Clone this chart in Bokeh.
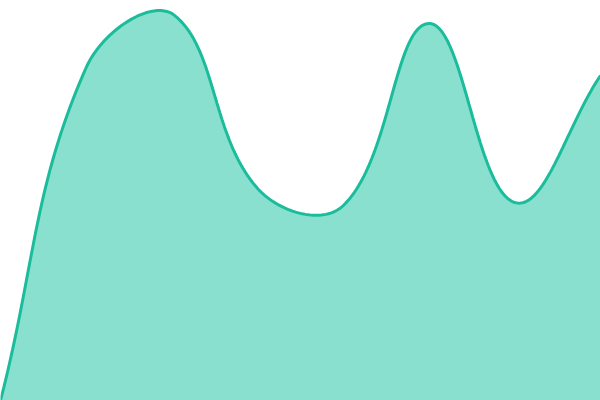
import numpy as np
from bokeh.plotting import figure
from bokeh.models import Range1d
from bokeh.embed import file_html
from bokeh.resources import INLINE

# data (8 evenly spaced samples)
positions = [0, 1, 2, 3, 4, 5, 6, 7]
values = [0, 333, 387, 212, 195, 377, 198, 325]

LINE_COLOR = "#1abc9c"
FILL_COLOR = "#89e0cf"
W, H = 600, 400
X_MAX, Y_MAX = 7, 400
TENSION = 0.4


def smooth_path(xs, ys, steps=60):
    # work in screen proportions so the smoothing matches the drawn geometry
    px = np.asarray(xs, float) * W / X_MAX
    py = np.asarray(ys, float) * H / Y_MAX
    n = len(px)
    prev_cp, next_cp = [], []
    for i in range(n):
        a = (px[i - 1], py[i - 1]) if i > 0 else (px[i], py[i])
        b = (px[i], py[i])
        c = (px[i + 1], py[i + 1]) if i < n - 1 else (px[i], py[i])
        d01 = np.hypot(b[0] - a[0], b[1] - a[1])
        d12 = np.hypot(c[0] - b[0], c[1] - b[1])
        tot = d01 + d12
        s01 = d01 / tot if tot else 0
        s12 = d12 / tot if tot else 0
        fa, fb = TENSION * s01, TENSION * s12
        pc = [b[0] - fa * (c[0] - a[0]), b[1] - fa * (c[1] - a[1])]
        nc = [b[0] + fb * (c[0] - a[0]), b[1] + fb * (c[1] - a[1])]
        for cp in (pc, nc):
            cp[0] = min(max(cp[0], 0), W)
            cp[1] = min(max(cp[1], 0), H)
        prev_cp.append(pc)
        next_cp.append(nc)
    ox, oy = [], []
    t = np.linspace(0, 1, steps, endpoint=False)
    for i in range(n - 1):
        p0 = (px[i], py[i])
        p1 = next_cp[i]
        p2 = prev_cp[i + 1]
        p3 = (px[i + 1], py[i + 1])
        b0 = (1 - t) ** 3
        b1 = 3 * (1 - t) ** 2 * t
        b2 = 3 * (1 - t) * t ** 2
        b3 = t ** 3
        ox.extend(b0 * p0[0] + b1 * p1[0] + b2 * p2[0] + b3 * p3[0])
        oy.extend(b0 * p0[1] + b1 * p1[1] + b2 * p2[1] + b3 * p3[1])
    ox.append(px[-1])
    oy.append(py[-1])
    return np.array(ox) * X_MAX / W, np.array(oy) * Y_MAX / H


sx, sy = smooth_path(positions, values)

p = figure(width=W, height=H, output_backend="svg", toolbar_location=None,
           x_range=Range1d(0, X_MAX), y_range=Range1d(0, Y_MAX), min_border=0)
p.axis.visible = False
p.grid.visible = False
p.outline_line_color = None
p.background_fill_color = "white"
p.border_fill_color = "white"

p.varea(x=sx, y1=np.zeros_like(sy), y2=sy, fill_color=FILL_COLOR, fill_alpha=1.0)
p.line(sx, sy, line_color=LINE_COLOR, line_width=3)

html = file_html(p, INLINE)
html = html.replace("<body>", '<body style="margin:0">', 1)
open("out.html", "w").write(html)
